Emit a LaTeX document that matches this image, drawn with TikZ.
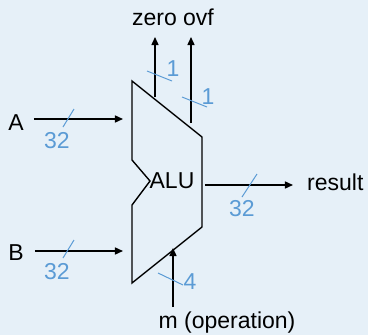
\documentclass[tikz,border=0pt]{standalone}
\usepackage{fontspec}
\setmainfont{Liberation Sans}
\usetikzlibrary{arrows.meta}
\definecolor{bg}{HTML}{E6F0F8}
\definecolor{lblue}{HTML}{5B9BD5}
\begin{document}
\begin{tikzpicture}[x=1pt,y=-1pt,
  txt/.style={inner sep=0pt,font=\fontsize{23}{27}\selectfont},
  btxt/.style={txt,text=lblue},
  wire/.style={line width=1.4pt,-{Triangle[length=8pt,width=7pt]}},
  slash/.style={lblue,line width=1pt},
  alu/.style={line width=1.4pt,line join=miter}]
\fill[bg] (0,0) rectangle (368,335);
\useasboundingbox (0,0) rectangle (368,335);
% ALU outline
\coordinate (tl) at (132,81);
\coordinate (tr) at (202,137);
\coordinate (br) at (202,227);
\coordinate (bl) at (132,283);
\coordinate (n1) at (132,160);
\coordinate (np) at (150,181);
\coordinate (n2) at (132,205);
\draw[alu] (tl) -- (tr) -- (br) -- (bl) -- (n2) -- (np) -- (n1) -- cycle;
\node[txt] (alu) at (172,181) {ALU};
% inputs
\node[txt] (A) at (16,123) {A};
\node[txt] (B) at (16,253) {B};
\coordinate (ain) at (123,119);
\coordinate (bin) at (123,251);
\draw[wire] (34,119) coordinate (as) -- (ain);
\draw[wire] (35,251) coordinate (bs) -- (bin);
\draw[slash] (74,109) coordinate (sa1) -- (63,127) coordinate (sa2);
\node[btxt] (a32) at (57,141) {32};
\draw[slash] (74,240) coordinate (sb1) -- (63,258) coordinate (sb2);
\node[btxt] (b32) at (57,272) {32};
% outputs top
\node[txt] (flags) at (173,17) {zero ovf};
\coordinate (z0) at (155,97);
\coordinate (z1) at (155,37);
\coordinate (o0) at (191,123);
\coordinate (o1) at (191,37);
\draw[wire] (z0) -- (z1);
\draw[wire] (o0) -- (o1);
\draw[slash] (147,71) coordinate (sz1) -- (172,81) coordinate (sz2);
\node[btxt] (z1l) at (173,69) {1};
\draw[slash] (182,97) coordinate (so1) -- (207,107) coordinate (so2);
\node[btxt] (o1l) at (208,97) {1};
% result
\coordinate (r0) at (205,185);
\coordinate (r1) at (293,185);
\draw[wire] (r0) -- (r1);
\node[txt,anchor=west] (res) at (307,182) {result};
\draw[slash] (257,174) coordinate (sr1) -- (242,197) coordinate (sr2);
\node[btxt] (r32) at (242,209) {32};
% operation
\coordinate (m0) at (173,307);
\coordinate (m1) at (173,248);
\draw[wire] (m0) -- (m1);
\node[txt] (mop) at (227,323) {m (operation)};
\draw[slash] (158,273) coordinate (sm1) -- (183,285) coordinate (sm2);
\node[btxt] (m4) at (190,282) {4};
\end{tikzpicture}
\end{document}
